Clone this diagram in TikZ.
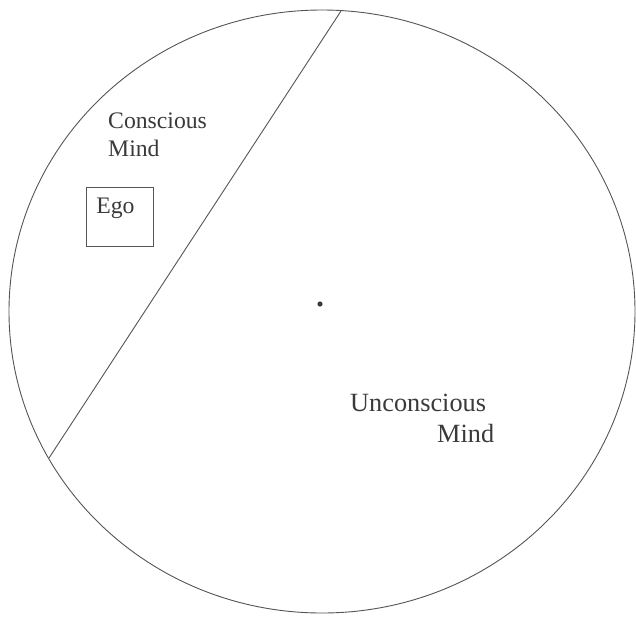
\documentclass[tikz,border=0pt]{standalone}
\usepackage{fontspec}
\setmainfont{Liberation Serif}
\usepackage{tikz}
\usetikzlibrary{positioning, calc}
\definecolor{InkGrey}{HTML}{3A3A3A}
\definecolor{LineGrey}{HTML}{555555}
\tikzset{
    % Outline of the mind
    mind outline/.style={
        draw=LineGrey,
        line width=0.9pt
    },
    divider/.style={
        draw=LineGrey,
        line width=0.9pt
    },
    region label/.style={
        anchor=north west,
        inner sep=0pt,
        align=left,
        text=InkGrey
    },
    egobox/.style={
        rectangle,
        draw=LineGrey,
        line width=0.8pt,
        anchor=north west,
        text width=47pt,
        inner xsep=10pt,
        inner ysep=10.3pt,
        text depth=22.7pt,
        align=left,
        text=InkGrey,
        font=\fontsize{23.7}{28}\selectfont
    }
}

\begin{document}
\begin{tikzpicture}[x=1pt, y=-1pt]
        \useasboundingbox (0,0) rectangle (636,616);

        % Whole mind
        \draw[mind outline] (322,311.5) ellipse (313 and 301.5);

        % Chord between the two parts
        \coordinate (top end) at (341,11);
        \coordinate (bottom end) at (49,458);
        \draw[divider] (top end) -- (bottom end);

        % Centre dot
        \coordinate (centre) at (320,304);
        \fill[InkGrey] (centre) circle [radius=2.6pt];

        % Conscious part
        \node[region label, font=\fontsize{23.7}{28}\selectfont] (conscious) at (108,113) {Conscious\\Mind};
        \node[egobox] (ego) at (86,187) {Ego};

        % Unconscious part
        \node[region label, font=\fontsize{26.3}{31}\selectfont] (unconscious) at (350,394) {Unconscious\\\hspace*{87pt}Mind};
    \end{tikzpicture}
\end{document}
